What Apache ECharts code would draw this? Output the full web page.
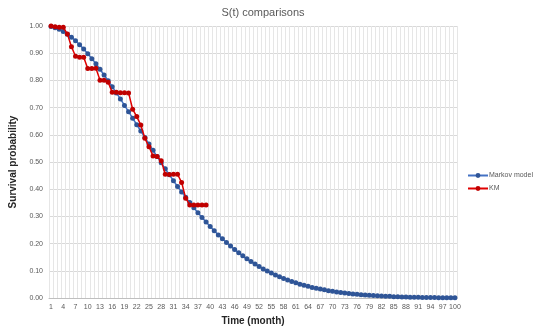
<!DOCTYPE html>
<html><head><meta charset="utf-8">
<script src="https://cdn.jsdelivr.net/npm/echarts@6/dist/echarts.min.js"></script>
<style>html,body{margin:0;padding:0;background:#fff}#c{width:540px;height:331px}</style>
</head><body><div id="c"></div>
<script>
const months = Array.from({length:100},(_,i)=>String(i+1));
const markovModel = [0.998,0.994,0.988,0.980,0.970,0.959,0.946,0.931,0.915,0.898,
0.880,0.861,0.841,0.820,0.799,0.777,0.754,0.732,0.708,0.685,
0.661,0.637,0.614,0.590,0.566,0.543,0.520,0.497,0.475,0.453,
0.431,0.410,0.390,0.370,0.351,0.332,0.313,0.296,0.279,0.263,
0.247,0.232,0.218,0.204,0.191,0.178,0.166,0.155,0.144,0.134,
0.125,0.116,0.107,0.099,0.092,0.085,0.078,0.072,0.066,0.061,
0.056,0.051,0.047,0.043,0.039,0.036,0.033,0.030,0.027,0.025,
0.022,0.020,0.018,0.017,0.015,0.014,0.012,0.011,0.010,0.009,
0.008,0.007,0.006,0.006,0.005,0.005,0.004,0.004,0.003,0.003,
0.003,0.002,0.002,0.002,0.002,0.001,0.001,0.001,0.001,0.001];
const kmValues = [1.000,0.997,0.995,0.995,0.971,0.924,0.889,0.885,0.885,0.844,
0.844,0.845,0.801,0.801,0.793,0.756,0.756,0.755,0.755,0.754,
0.694,0.667,0.636,0.587,0.556,0.522,0.520,0.505,0.455,0.454,
0.455,0.455,0.425,0.367,0.342,0.342,0.342,0.342,0.342];
const seriesNames = ['Markov model','KM'];
const titleText = 'S(t) comparisons';
const xName = 'Time (month)';
const yName = 'Survival probability';

const chart = echarts.init(document.getElementById('c'));
chart.setOption({
  animation:false,
  backgroundColor:'#fff',
  title:{text:titleText,left:258,top:2,textAlign:'center',textStyle:{fontSize:11,fontWeight:'normal',color:'#595959',fontFamily:'Liberation Sans'}},
  legend:{orient:'vertical',left:462,top:167,itemGap:6,itemWidth:20,itemHeight:6,
    textStyle:{fontSize:7,color:'#595959',fontFamily:'Liberation Sans',padding:[0,0,0,-4]},
    data:seriesNames},
  grid:{left:43,right:83,top:26,bottom:33},
  xAxis:{type:'category',data:months,boundaryGap:true,
    name:xName,nameLocation:'middle',nameGap:17,
    nameTextStyle:{fontSize:10,fontWeight:'bold',color:'#262626',fontFamily:'Liberation Sans'},
    axisLine:{lineStyle:{color:'#bfbfbf'}},axisTick:{show:false},
    axisLabel:{interval:2,fontSize:7,color:'#595959',margin:6,fontFamily:'Liberation Sans'},
    splitLine:{show:true,interval:0,lineStyle:{color:'#e6e6e6',width:1}}},
  yAxis:{type:'value',min:0,max:1,interval:0.1,
    name:yName,nameLocation:'middle',nameGap:31,
    nameTextStyle:{fontSize:10,fontWeight:'bold',color:'#262626',fontFamily:'Liberation Sans'},
    axisLine:{show:false},axisTick:{show:false},
    axisLabel:{fontSize:7,color:'#595959',margin:6,formatter:v=>v.toFixed(2),fontFamily:'Liberation Sans'},
    splitLine:{lineStyle:{color:'#d9d9d9'}}},
  series:[
    {name:seriesNames[0],type:'line',data:markovModel,symbol:'circle',symbolSize:5,showAllSymbol:true,
     lineStyle:{color:'#4472c4',width:1.5},itemStyle:{color:'#2f5597'},z:2},
    {name:seriesNames[1],type:'line',data:kmValues,symbol:'circle',symbolSize:5,showAllSymbol:true,
     lineStyle:{color:'#e00000',width:1.5},itemStyle:{color:'#c00000'},z:3}
  ]
});
</script></body></html>
